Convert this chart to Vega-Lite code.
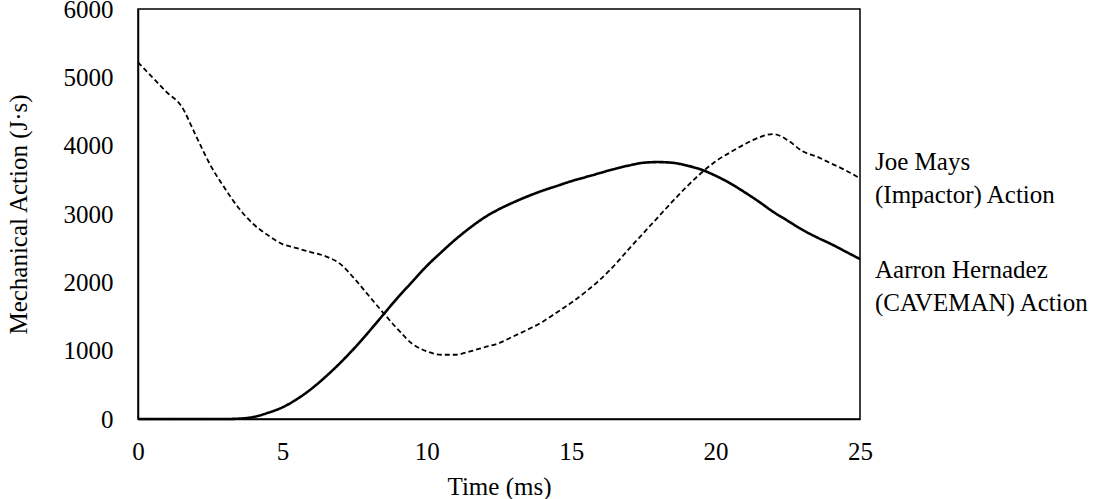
{
  "$schema": "https://vega.github.io/schema/vega-lite/v6.json",
  "width": 722,
  "height": 410,
  "autosize": {"type": "none"},
  "padding": {"left": 138, "top": 9, "right": 243, "bottom": 80},
  "background": "white",
  "config": {
    "font": "Liberation Serif",
    "view": {"stroke": "black", "strokeWidth": 1.5},
    "axis": {
      "labelFont": "Liberation Serif",
      "titleFont": "Liberation Serif",
      "labelFontSize": 25,
      "titleFontSize": 25,
      "labelColor": "black",
      "titleColor": "black",
      "titleFontWeight": "normal",
      "domainColor": "black",
      "domainWidth": 1.5,
      "ticks": false,
      "grid": false,
      "format": "d"
    }
  },
  "datasets": {
    "action": [
      {"t": 0, "v": 5220, "who": "Joe Mays"},
      {"t": 0.5, "v": 5000, "who": "Joe Mays"},
      {"t": 1, "v": 4780, "who": "Joe Mays"},
      {"t": 1.5, "v": 4580, "who": "Joe Mays"},
      {"t": 2, "v": 4150, "who": "Joe Mays"},
      {"t": 2.5, "v": 3720, "who": "Joe Mays"},
      {"t": 3, "v": 3380, "who": "Joe Mays"},
      {"t": 3.5, "v": 3080, "who": "Joe Mays"},
      {"t": 4, "v": 2850, "who": "Joe Mays"},
      {"t": 4.5, "v": 2690, "who": "Joe Mays"},
      {"t": 5, "v": 2560, "who": "Joe Mays"},
      {"t": 5.5, "v": 2500, "who": "Joe Mays"},
      {"t": 6, "v": 2440, "who": "Joe Mays"},
      {"t": 6.5, "v": 2380, "who": "Joe Mays"},
      {"t": 7, "v": 2270, "who": "Joe Mays"},
      {"t": 7.5, "v": 2050, "who": "Joe Mays"},
      {"t": 8, "v": 1800, "who": "Joe Mays"},
      {"t": 8.5, "v": 1550, "who": "Joe Mays"},
      {"t": 9, "v": 1310, "who": "Joe Mays"},
      {"t": 9.5, "v": 1100, "who": "Joe Mays"},
      {"t": 10, "v": 990, "who": "Joe Mays"},
      {"t": 10.5, "v": 940, "who": "Joe Mays"},
      {"t": 11, "v": 940, "who": "Joe Mays"},
      {"t": 11.5, "v": 990, "who": "Joe Mays"},
      {"t": 12, "v": 1050, "who": "Joe Mays"},
      {"t": 12.5, "v": 1110, "who": "Joe Mays"},
      {"t": 13, "v": 1210, "who": "Joe Mays"},
      {"t": 13.5, "v": 1310, "who": "Joe Mays"},
      {"t": 14, "v": 1420, "who": "Joe Mays"},
      {"t": 14.5, "v": 1560, "who": "Joe Mays"},
      {"t": 15, "v": 1700, "who": "Joe Mays"},
      {"t": 15.5, "v": 1860, "who": "Joe Mays"},
      {"t": 16, "v": 2040, "who": "Joe Mays"},
      {"t": 16.5, "v": 2250, "who": "Joe Mays"},
      {"t": 17, "v": 2490, "who": "Joe Mays"},
      {"t": 17.5, "v": 2720, "who": "Joe Mays"},
      {"t": 18, "v": 2950, "who": "Joe Mays"},
      {"t": 18.5, "v": 3180, "who": "Joe Mays"},
      {"t": 19, "v": 3400, "who": "Joe Mays"},
      {"t": 19.5, "v": 3600, "who": "Joe Mays"},
      {"t": 20, "v": 3770, "who": "Joe Mays"},
      {"t": 20.5, "v": 3900, "who": "Joe Mays"},
      {"t": 21, "v": 4020, "who": "Joe Mays"},
      {"t": 21.5, "v": 4120, "who": "Joe Mays"},
      {"t": 22, "v": 4170, "who": "Joe Mays"},
      {"t": 22.5, "v": 4080, "who": "Joe Mays"},
      {"t": 23, "v": 3920, "who": "Joe Mays"},
      {"t": 23.5, "v": 3840, "who": "Joe Mays"},
      {"t": 24, "v": 3740, "who": "Joe Mays"},
      {"t": 24.5, "v": 3640, "who": "Joe Mays"},
      {"t": 25, "v": 3520, "who": "Joe Mays"},
      {"t": 0, "v": 0, "who": "Aarron Hernadez"},
      {"t": 1, "v": 0, "who": "Aarron Hernadez"},
      {"t": 2, "v": 0, "who": "Aarron Hernadez"},
      {"t": 3, "v": 0, "who": "Aarron Hernadez"},
      {"t": 3.5, "v": 5, "who": "Aarron Hernadez"},
      {"t": 4, "v": 30, "who": "Aarron Hernadez"},
      {"t": 4.5, "v": 90, "who": "Aarron Hernadez"},
      {"t": 5, "v": 170, "who": "Aarron Hernadez"},
      {"t": 5.5, "v": 290, "who": "Aarron Hernadez"},
      {"t": 6, "v": 440, "who": "Aarron Hernadez"},
      {"t": 6.5, "v": 620, "who": "Aarron Hernadez"},
      {"t": 7, "v": 820, "who": "Aarron Hernadez"},
      {"t": 7.5, "v": 1040, "who": "Aarron Hernadez"},
      {"t": 8, "v": 1280, "who": "Aarron Hernadez"},
      {"t": 8.5, "v": 1530, "who": "Aarron Hernadez"},
      {"t": 9, "v": 1780, "who": "Aarron Hernadez"},
      {"t": 9.5, "v": 2010, "who": "Aarron Hernadez"},
      {"t": 10, "v": 2240, "who": "Aarron Hernadez"},
      {"t": 10.5, "v": 2440, "who": "Aarron Hernadez"},
      {"t": 11, "v": 2630, "who": "Aarron Hernadez"},
      {"t": 11.5, "v": 2800, "who": "Aarron Hernadez"},
      {"t": 12, "v": 2950, "who": "Aarron Hernadez"},
      {"t": 12.5, "v": 3070, "who": "Aarron Hernadez"},
      {"t": 13, "v": 3170, "who": "Aarron Hernadez"},
      {"t": 13.5, "v": 3260, "who": "Aarron Hernadez"},
      {"t": 14, "v": 3340, "who": "Aarron Hernadez"},
      {"t": 14.5, "v": 3410, "who": "Aarron Hernadez"},
      {"t": 15, "v": 3480, "who": "Aarron Hernadez"},
      {"t": 15.5, "v": 3540, "who": "Aarron Hernadez"},
      {"t": 16, "v": 3600, "who": "Aarron Hernadez"},
      {"t": 16.5, "v": 3660, "who": "Aarron Hernadez"},
      {"t": 17, "v": 3710, "who": "Aarron Hernadez"},
      {"t": 17.5, "v": 3750, "who": "Aarron Hernadez"},
      {"t": 18, "v": 3760, "who": "Aarron Hernadez"},
      {"t": 18.5, "v": 3750, "who": "Aarron Hernadez"},
      {"t": 19, "v": 3710, "who": "Aarron Hernadez"},
      {"t": 19.5, "v": 3650, "who": "Aarron Hernadez"},
      {"t": 20, "v": 3560, "who": "Aarron Hernadez"},
      {"t": 20.5, "v": 3450, "who": "Aarron Hernadez"},
      {"t": 21, "v": 3320, "who": "Aarron Hernadez"},
      {"t": 21.5, "v": 3180, "who": "Aarron Hernadez"},
      {"t": 22, "v": 3030, "who": "Aarron Hernadez"},
      {"t": 22.5, "v": 2900, "who": "Aarron Hernadez"},
      {"t": 23, "v": 2770, "who": "Aarron Hernadez"},
      {"t": 23.5, "v": 2660, "who": "Aarron Hernadez"},
      {"t": 24, "v": 2560, "who": "Aarron Hernadez"},
      {"t": 24.5, "v": 2450, "who": "Aarron Hernadez"},
      {"t": 25, "v": 2340, "who": "Aarron Hernadez"}
    ],
    "labels": [
      {"t": 25, "v": 3761, "label": "Joe Mays\n(Impactor) Action"},
      {"t": 25, "v": 2181, "label": "Aarron Hernadez\n(CAVEMAN) Action"}
    ]
  },
  "layer": [
    {
      "data": {"name": "action"},
      "mark": {"type": "line", "color": "black", "interpolate": "monotone"},
      "encoding": {
        "x": {
          "field": "t",
          "type": "quantitative",
          "title": "Time (ms)",
          "scale": {"domain": [0, 25], "nice": false},
          "axis": {"values": [0, 5, 10, 15, 20, 25], "labelPadding": 20, "titlePadding": 10, "labelFlush": false}
        },
        "y": {
          "field": "v",
          "type": "quantitative",
          "title": "Mechanical Action (J·s)",
          "scale": {"domain": [0, 6000], "nice": false},
          "axis": {"values": [0, 1000, 2000, 3000, 4000, 5000, 6000], "labelPadding": 25, "titlePadding": 32, "labelFlush": false}
        },
        "detail": {"field": "who"},
        "strokeDash": {
          "field": "who",
          "type": "nominal",
          "scale": {"domain": ["Joe Mays", "Aarron Hernadez"], "range": [[5, 3], [1, 0]]},
          "legend": null
        },
        "strokeWidth": {
          "field": "who",
          "type": "nominal",
          "scale": {"domain": ["Joe Mays", "Aarron Hernadez"], "range": [1.8, 2.6]},
          "legend": null
        }
      }
    },
    {
      "data": {"name": "labels"},
      "mark": {"type": "text", "align": "left", "baseline": "middle", "dx": 15, "lineBreak": "\n", "lineHeight": 33, "fontSize": 25, "font": "Liberation Serif", "color": "black", "clip": false},
      "encoding": {
        "x": {"field": "t", "type": "quantitative"},
        "y": {"field": "v", "type": "quantitative"},
        "text": {"field": "label"}
      }
    }
  ]
}
